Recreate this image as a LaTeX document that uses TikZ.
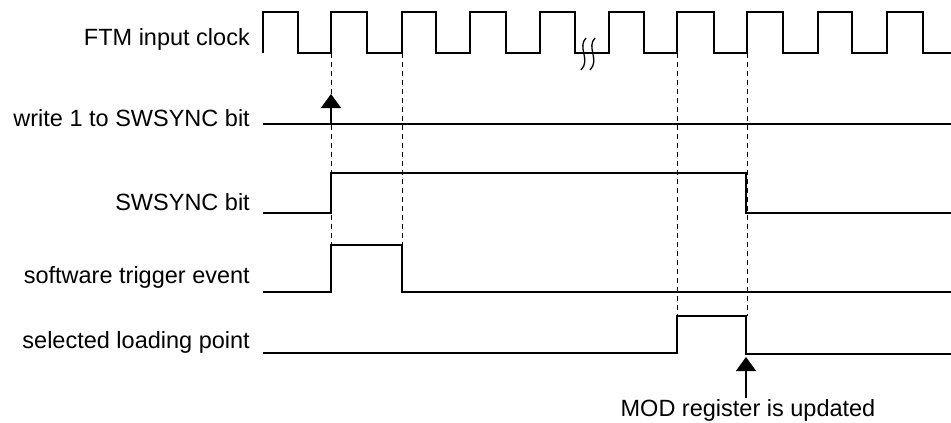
\documentclass[tikz,border=0pt]{standalone}
\usepackage{fontspec}
\setmainfont{Liberation Sans}
\usetikzlibrary{arrows.meta}
\begin{document}
\begin{tikzpicture}[x=1pt,y=-1pt,
  sig/.style={line width=1.8pt,line join=miter},
  guide/.style={line width=0.8pt,dash pattern=on 5pt off 4pt},
  lbl/.style={anchor=base east,inner sep=0pt,font=\fontsize{23.5}{26}\selectfont},
  evt/.style={line width=1.5pt,-{Triangle[width=20pt,length=14pt]}}]
\useasboundingbox (0,0) rectangle (951,423);
% labels
\node[lbl] (lclk) at (250,45.5) {FTM input clock};
\node[lbl] (lwr) at (250,126.5) {write 1 to SWSYNC bit};
\node[lbl] (lsw) at (250,210) {SWSYNC bit};
\node[lbl] (ltr) at (250,283.5) {software trigger event};
\node[lbl] (lsel) at (250,348) {selected loading point};
\node[inner sep=0pt,anchor=base,font=\fontsize{23.5}{26}\selectfont] (lmod) at (748,416) {MOD register is updated};
% clock
\draw[sig] (263,53) -- (263,12) -- (298,12) -- (298,53) -- (331,53) -- (331,12) -- (367,12) -- (367,53)
  -- (402,53) -- (402,12) -- (436,12) -- (436,53) -- (470,53) -- (470,12) -- (506,12) -- (506,53)
  -- (540,53) -- (540,12) -- (575,12) -- (575,53) -- (609,53) -- (609,12) -- (644,12) -- (644,53)
  -- (677,53) -- (677,12) -- (714,12) -- (714,53) -- (747,53) -- (747,12) -- (783,12) -- (783,53)
  -- (818,53) -- (818,12) -- (852,12) -- (852,53) -- (887,53) -- (887,12) -- (923,12) -- (923,53) -- (951,53);
% break marks
\draw[line width=1.3pt] (586,38) .. controls (577,47) and (591,60) .. (581,70);
\draw[line width=1.3pt] (595,38) .. controls (586,47) and (600,60) .. (590,70);
% guides
\coordinate (g1t) at (331,53); \coordinate (g1b) at (331,245);
\coordinate (g2t) at (402,53); \coordinate (g2b) at (402,245);
\coordinate (g3t) at (677,53); \coordinate (g3b) at (677,316);
\coordinate (g4t) at (747,53); \coordinate (g4b) at (747,316);
\draw[guide] (g1t) -- (g1b);
\draw[guide] (g2t) -- (g2b);
\draw[guide] (g3t) -- (g3b);
\draw[guide] (g4t) -- (g4b);
% write line
\draw[sig] (263,124) -- (951,124);
\coordinate (wa) at (331,124); \coordinate (wt) at (331,94);
\draw[evt] (wa) -- (wt);
% SWSYNC bit
\draw[sig] (263,213) -- (331,213) -- (331,173) -- (746,173) -- (746,213) -- (951,213);
% software trigger
\draw[sig] (263,292) -- (331,292) -- (331,245) -- (402,245) -- (402,292) -- (951,292);
% selected loading point
\draw[sig] (263,353) -- (677,353) -- (677,316) -- (746,316) -- (746,354) -- (951,354);
% MOD arrow
\coordinate (ma) at (746,398); \coordinate (mt) at (746,357);
\draw[evt] (ma) -- (mt);
\end{tikzpicture}
\end{document}
